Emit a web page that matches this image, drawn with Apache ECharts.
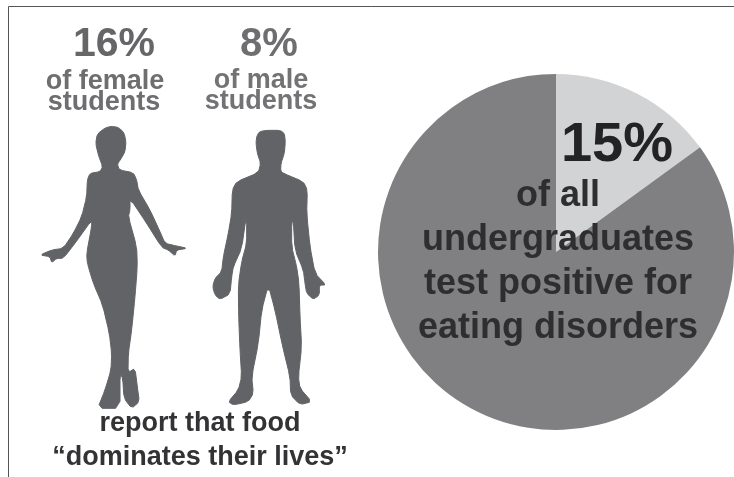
<!DOCTYPE html>
<html><head><meta charset="utf-8">
<style>html,body{margin:0;padding:0;background:#fff}#c{width:734px;height:477px;filter:blur(0.4px)}</style>
<script src="https://cdn.jsdelivr.net/npm/echarts@6/dist/echarts.min.js"></script></head>
<body><div id="c"></div><script>
const categories = ['Test positive for eating disorders', 'Other undergraduates'];
const values = [15, 85];
const colors = ['#d2d3d5', '#808082'];
const femaleShare = '16%', maleShare = '8%', allShare = '15%';

const femaleOutline = [[315,384],[333,379],[355,382],[372,398],[378,425],[375,455],[362,478],[352,492],[358,510],[400,518],[410,540],[415,570],[450,630],[480,695],[495,730],[530,738],[562,745],[530,750],[525,768],[505,750],[485,742],[440,670],[390,595],[390,630],[385,650],[410,740],[412,800],[405,890],[395,990],[385,1060],[384,1118],[405,1105],[412,1160],[418,1205],[395,1225],[372,1195],[368,1135],[360,1120],[360,1225],[293,1225],[315,1170],[333,1110],[335,1060],[328,1000],[308,915],[280,850],[262,790],[260,760],[275,680],[275,660],[225,730],[190,775],[170,775],[155,788],[150,770],[120,765],[155,750],[190,745],[220,700],[245,650],[260,590],[262,540],[270,520],[300,515],[308,500],[295,465],[287,430],[292,402]];
const maleOutline = [[770,410],[778,395],[800,391],[840,391],[853,400],[856,425],[853,460],[843,490],[842,512],[850,520],[910,545],[922,570],[920,640],[930,740],[945,820],[978,855],[958,855],[958,885],[940,898],[920,880],[915,850],[910,810],[885,750],[880,665],[875,665],[875,740],[890,800],[897,850],[900,950],[905,1040],[895,1130],[900,1165],[935,1205],[900,1214],[872,1185],[870,1130],[848,1040],[825,930],[805,855],[785,930],[775,1030],[755,1130],[760,1180],[745,1205],[700,1215],[685,1205],[715,1170],[725,1130],[720,1050],[716,950],[715,855],[725,785],[740,730],[740,660],[737,660],[725,745],[700,800],[695,830],[690,882],[660,898],[645,885],[638,860],[645,835],[665,815],[670,770],[685,700],[695,640],[697,570],[710,545],[775,518],[782,490],[772,460],[768,430]];

function chaikin(pts){
  const out=[];
  pts.forEach((p,i)=>{const q=pts[(i+1)%pts.length];
    out.push([p[0]*.8+q[0]*.2,p[1]*.8+q[1]*.2],[p[0]*.2+q[0]*.8,p[1]*.2+q[1]*.8]);});
  return out;
}
const txt=(text,x,y,size,fill)=>({type:'text',z:10,x,y,style:{text,x:0,y:0,align:'center',verticalAlign:'middle',fontFamily:'"Liberation Sans",Arial,sans-serif',fontWeight:'bold',fontSize:size,fill}});
const sil=(pts)=>({type:'polygon',z:10,x:0,y:0,scaleX:1/3,scaleY:1/3,shape:{points:chaikin(pts)},style:{fill:'#626366',stroke:'#626366',lineWidth:3,lineJoin:'round'}});

const chart=echarts.init(document.getElementById('c'),null,{renderer:'canvas'});
chart.setOption({
  animation:false,backgroundColor:'#fff',
  series:[{type:'pie',center:[556,252],radius:[0,178],startAngle:90,clockwise:true,silent:true,
    label:{show:false},labelLine:{show:false},
    data:categories.map((name,i)=>({name,value:values[i],itemStyle:{color:colors[i]}}))}],
  graphic:[
    {type:'line',z:10,shape:{x1:8.5,y1:6.5,x2:734,y2:6.5},style:{stroke:'#555',lineWidth:1}},
    {type:'line',z:10,shape:{x1:8.5,y1:6.5,x2:8.5,y2:477},style:{stroke:'#555',lineWidth:1}},
    sil(femaleOutline),sil(maleOutline),
    txt(femaleShare,114,45,41,'#666668'),
    txt(maleShare,269,45,40,'#6e6e70'),
    txt('of female',105,82,27,'#6e6e70'),
    txt('students',104,103,27,'#6e6e70'),
    txt('of male',261,81,27,'#737375'),
    txt('students',261,102,27,'#737375'),
    txt('report that food',200,424,27,'#333335'),
    txt('\u201Cdominates their lives\u201D',200,458,27,'#333335'),
    txt(allShare,617,146,56,'#232325'),
    txt('of all',558,196,36,'#2e2e30'),
    txt('undergraduates',558,240,36,'#2e2e30'),
    txt('test positive for',558,284,36,'#2e2e30'),
    txt('eating disorders',558,328,36,'#2e2e30')
  ]
});
</script></body></html>
